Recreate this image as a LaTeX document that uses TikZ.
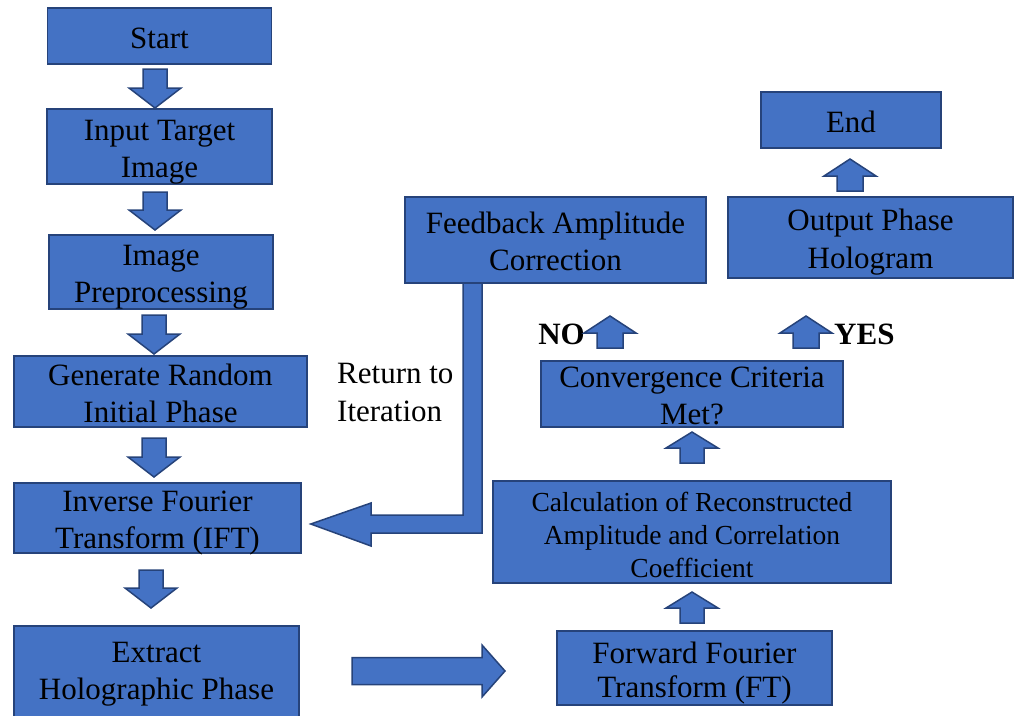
\documentclass[tikz,border=0pt]{standalone}
\usepackage{fontspec}
\setmainfont{Liberation Serif}
\usetikzlibrary{calc}
\definecolor{boxblue}{HTML}{4472C4}
\definecolor{boxline}{HTML}{26437A}
\newcommand{\topstrut}{\rule{0pt}{34pt}}

\begin{document}
\begin{tikzpicture}
  [
    x=1pt, y=-1pt,
    Box/.style={rectangle, draw=boxline, fill=boxblue, line width=1.5pt, inner xsep=0pt, inner ysep=-20pt,
      align=center, font=\fontsize{31}{37}\selectfont,
      execute at end node={\rule[-10pt]{0pt}{10pt}}},
    Block/.style={draw=boxline, fill=boxblue, line width=1.5pt, line join=miter},
    Word/.style={inner sep=0pt, align=left, font=\fontsize{31}{38}\selectfont},
    pics/blk/.style n args={3}{code={
      \draw[Block] (0,-#3) -- ({#1-#2},-#3) -- ({#1-#2},-26) -- (#1,0)
        -- ({#1-#2},26) -- ({#1-#2},#3) -- (0,#3) -- cycle;
    }}
  ]
  \useasboundingbox (0,0) rectangle (1016,715);

  % Nodes
  \node[Box, minimum width=224pt, minimum height=56pt] (start) at (159.5,36) {\topstrut Start};
  \node[Box, minimum width=225pt, minimum height=75pt] (input) at (159.5,146.5) {\topstrut Input Target\\Image};
  \node[Box, minimum width=224pt, minimum height=74pt] (prep) at (161,272) {\topstrut Image\\Preprocessing};
  \node[Box, minimum width=293pt, minimum height=71pt] (gen) at (160.5,391.5) {\topstrut Generate Random\\Initial Phase};
  \node[Box, minimum width=287pt, minimum height=70pt] (ift) at (157.5,518) {\topstrut Inverse Fourier\\Transform (IFT)};
  \node[Box, minimum width=285pt, minimum height=109pt,
    execute at end node={\rule[-34pt]{0pt}{34pt}}] (extract) at (156.5,680.5) {\topstrut Extract\\Holographic Phase};

  \node[Box, minimum width=275pt, minimum height=74pt, font=\fontsize{31}{34}\selectfont] (ft) at (694.5,668) {\topstrut Forward Fourier\\Transform (FT)};
  \node[Box, minimum width=398pt, minimum height=102pt, font=\fontsize{27.5}{33}\selectfont] (calc) at (692,532)
    {\topstrut Calculation of Reconstructed\\Amplitude and Correlation\\Coefficient};
  \node[Box, minimum width=302pt, minimum height=66pt] (conv) at (692,394) {\topstrut Convergence Criteria\\Met?};
  \node[Box, minimum width=301pt, minimum height=86pt] (feedback) at (555.5,240) {\topstrut Feedback Amplitude\\Correction};
  \node[Box, minimum width=285pt, minimum height=81pt, font=\fontsize{31}{38}\selectfont] (output) at (870.5,237.5) {\topstrut Output Phase\\Hologram};
  \node[Box, minimum width=180pt, minimum height=56pt] (end) at (851,120) {\topstrut End};

  \node[Word, anchor=north west] (retlabel) at (337,349) {\topstrut Return to\\Iteration};
  \node[Word, font=\bfseries\fontsize{31}{37}\selectfont, anchor=base east] (no) at (585,344) {NO};
  \node[Word, font=\bfseries\fontsize{31}{37}\selectfont, anchor=base west] (yes) at (834,344) {YES};

  % Arrows
  \pic[rotate=-90] at (155,69) {blk={39}{20}{12}};
  \pic[rotate=-90] at (155,192) {blk={38}{20}{12}};
  \pic[rotate=-90] at (154,315) {blk={39}{20}{12}};
  \pic[rotate=-90] at (154,438) {blk={39}{20}{12}};
  \pic[rotate=-90] at (151,570) {blk={38}{20}{12}};
  \pic at (352,671) {blk={153}{23}{13.5}};
  \pic[rotate=90] at (692,623) {blk={31}{16}{12}};
  \pic[rotate=90] at (692,463) {blk={31}{16}{12}};
  \pic[rotate=90] at (610,348) {blk={32}{17}{13}};
  \pic[rotate=90] at (806,348) {blk={32}{17}{13}};
  \pic[rotate=90] at (850,191) {blk={32}{17}{13}};

  % Return path
  \draw[Block] (463,284) -- (463,515) -- (371,515) -- (371,503) -- ($(ift.east)+(9,6)$)
    -- (371,546) -- (371,533) -- (482,533) -- (482,284);

\end{tikzpicture}
\end{document}
